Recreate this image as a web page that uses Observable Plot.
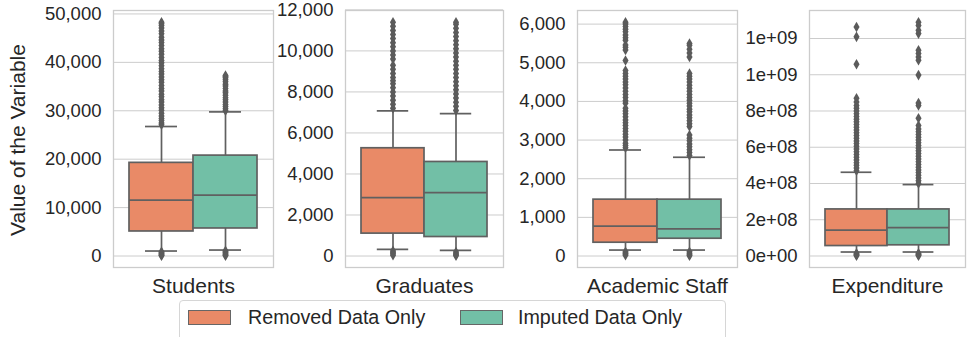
<!DOCTYPE html>
<html>
<head>
<meta charset="utf-8">
<script src="https://cdn.jsdelivr.net/npm/d3@7"></script>
<script src="https://cdn.jsdelivr.net/npm/@observablehq/plot@0.6"></script>
<style>
  html, body { margin: 0; padding: 0; background: #fff; }
  body { font-family: "Liberation Sans", Arial, sans-serif; color: #262626; }
  #root { position: relative; width: 967px; height: 337px; overflow: hidden; }
  .panel { position: absolute; top: 0; }
  #ylabel { position: absolute; left: -132px; top: 127px; width: 300px; text-align: center;
            font-size: 21px; line-height: 26px; transform: rotate(-90deg); transform-origin: 150px 13px; }
  #legend { position: absolute; left: 179px; top: 300px; width: 547px; height: 50px;
            border: 1px solid #d6d6d6; border-radius: 4px; box-sizing: border-box; }
  .sw { position: absolute; top: 9px; width: 41px; height: 13px; border: 1px solid #666; box-sizing: content-box; }
  .lt { position: absolute; top: 4px; font-size: 19.7px; line-height: 24px; white-space: nowrap; }
</style>
</head>
<body>
<div id="root">
  <div id="ylabel">Value of the Variable</div>
  <div id="legend"></div>
</div>
<script>
// ---------- data ----------
const variables = ["Students", "Graduates", "Academic Staff", "Expenditure"];
const groups = ["Removed Data Only", "Imputed Data Only"];
const palette = ["#e98a67", "#72bfa6"];

// box statistics per variable (Removed / Imputed)
const removedLow    = [1030, 327, 154, 2.2e7];
const removedQ1     = [5070, 1093, 344, 5.5e7];
const removedMedian = [11560, 2849, 771, 1.43e8];
const removedQ3     = [19240, 5254, 1458, 2.57e8];
const removedHigh   = [26750, 7073, 2743, 4.62e8];

const imputedLow    = [1233, 278, 154, 2.2e7];
const imputedQ1     = [5690, 927, 447, 5.9e7];
const imputedMedian = [12590, 3093, 704, 1.56e8];
const imputedQ3     = [20740, 4585, 1458, 2.57e8];
const imputedHigh   = [29770, 6946, 2555, 3.94e8];

// outliers
const studentsRemovedOut = [27100, 27500, 28000, 28400, 28900, 29500, 30100, 30600, 31200, 31800, 32300, 32900, 33400, 34100, 34600, 35200, 35900, 36400, 37000, 37600, 38100, 38700, 39300, 39900, 40400, 41000, 41700, 42300, 42800, 43500, 44100, 44600, 45200, 45900, 46500, 47100, 47600, 48000, 48300, 900, 700, 520, 340, 180, 40];
const studentsImputedOut = [30000, 30400, 30900, 31300, 31800, 32300, 32700, 33200, 33700, 34100, 34600, 35100, 35500, 36000, 36400, 36800, 37100, 37300, 1100, 880, 650, 430, 220, 60];
const graduatesRemovedOut = [7200, 7400, 7600, 7800, 8000, 8200, 8400, 8550, 8700, 8900, 9100, 9300, 9600, 9800, 10000, 10200, 10400, 10600, 10800, 11000, 11200, 11400, 250, 180, 110, 40];
const graduatesImputedOut = [7100, 7300, 7500, 7700, 7900, 8100, 8300, 8500, 8700, 8900, 9100, 9300, 9500, 9700, 9900, 10100, 10300, 10500, 10700, 10900, 11100, 11300, 11400, 200, 130, 60, 10];
const academicRemovedOut = [2800, 2860, 2920, 3000, 3080, 3150, 3230, 3300, 3380, 3450, 3520, 3600, 3680, 3750, 3820, 3950, 4020, 4100, 4180, 4260, 4350, 4430, 4500, 4580, 4650, 4720, 4800, 5060, 5330, 5400, 5460, 5580, 5650, 5720, 5800, 5870, 5940, 6000, 6050, 110, 80, 50, 20];
const academicImputedOut = [2600, 2680, 2750, 2830, 2900, 2980, 3050, 3130, 3350, 3420, 3500, 3580, 3650, 3730, 3800, 3880, 3950, 4030, 4100, 4180, 4260, 4340, 4420, 4500, 4580, 4650, 4720, 5150, 5250, 5350, 5450, 5500, 110, 70, 30, 5];
const expenditureRemovedOut = [4.7e8, 4.85e8, 5.0e8, 5.15e8, 5.3e8, 5.45e8, 5.6e8, 5.75e8, 5.9e8, 6.05e8, 6.2e8, 6.35e8, 6.5e8, 6.65e8, 6.8e8, 6.95e8, 7.1e8, 7.25e8, 7.4e8, 7.55e8, 7.7e8, 7.85e8, 8.0e8, 8.15e8, 8.3e8, 8.5e8, 8.7e8, 1.058e9, 1.209e9, 1.263e9, 1.5e7, 1.0e7, 5e6, 1e6];
const expenditureImputedOut = [4.0e8, 4.15e8, 4.3e8, 4.45e8, 4.6e8, 4.75e8, 4.9e8, 5.05e8, 5.2e8, 5.35e8, 5.5e8, 5.65e8, 5.8e8, 5.95e8, 6.1e8, 6.25e8, 6.4e8, 6.55e8, 6.7e8, 6.85e8, 7.0e8, 7.2e8, 7.6e8, 8.3e8, 8.44e8, 0.998e9, 1.08e9, 1.098e9, 1.117e9, 1.135e9, 1.227e9, 1.245e9, 1.272e9, 1.29e9, 1.5e7, 1.0e7, 5e6, 1e6];

// tick values and labels
const studentsTicks = [0, 10000, 20000, 30000, 40000, 50000];
const graduatesTicks = [0, 2000, 4000, 6000, 8000, 10000, 12000];
const academicTicks = [0, 1000, 2000, 3000, 4000, 5000, 6000];
const expenditureTicks = [0, 2e8, 4e8, 6e8, 8e8, 1e9, 1.2e9];
const expenditureTickLabels = ["0e+00", "2e+08", "4e+08", "6e+08", "8e+08", "1e+09", "1e+09"];

// ---------- build ----------
const comma = d3.format(",");
const outliers = [
  [studentsRemovedOut, studentsImputedOut],
  [graduatesRemovedOut, graduatesImputedOut],
  [academicRemovedOut, academicImputedOut],
  [expenditureRemovedOut, expenditureImputedOut]
];
const ticks = [studentsTicks, graduatesTicks, academicTicks, expenditureTicks];
const formats = [comma, comma, comma, (d, i) => expenditureTickLabels[i]];

// layout (pixels)
const panelLeft = [48, 280, 512, 744];
const frameWidth = [160, 158, 160, 156];
const mLeft = 65;

const root = document.getElementById("root");
const edge = "#606060";
const lw = 1.7;

variables.forEach((v, k) => {
  const stats = [
    {group: groups[0], lo: removedLow[k], q1: removedQ1[k], med: removedMedian[k], q3: removedQ3[k], hi: removedHigh[k]},
    {group: groups[1], lo: imputedLow[k], q1: imputedQ1[k], med: imputedMedian[k], q3: imputedQ3[k], hi: imputedHigh[k]}
  ];
  const pts = [];
  outliers[k].forEach((arr, g) => arr.forEach(value => pts.push({group: groups[g], value})));
  const all = pts.map(d => d.value).concat(stats.flatMap(d => [d.lo, d.hi]));
  const mn = d3.min(all), mx = d3.max(all), pad = (mx - mn) * 0.05;
  const bw = frameWidth[k] * 0.4;

  const chart = Plot.plot({
    width: mLeft + frameWidth[k] + 2,
    height: 300,
    marginTop: 10,
    marginBottom: 33,
    marginLeft: mLeft,
    marginRight: 2,
    x: {domain: groups, paddingInner: 0, paddingOuter: 0.25, axis: null},
    y: {domain: [mn - pad, mx + pad], axis: null},
    color: {domain: groups, range: palette},
    style: {fontFamily: '"Liberation Sans", Arial, sans-serif', fontSize: "18.5px", color: "#262626", background: "transparent", overflow: "visible"},
    marks: [
      Plot.gridY(ticks[k], {stroke: "#cccccc", strokeOpacity: 1, strokeWidth: 1}),
      Plot.frame({stroke: "#cccccc", strokeWidth: 1.3}),
      Plot.axisY(ticks[k], {tickSize: 0, tickPadding: 12, tickFormat: formats[k], fontSize: 18.5, label: null}),
      Plot.ruleX(stats, {x: "group", y1: "q3", y2: "hi", stroke: edge, strokeWidth: lw}),
      Plot.ruleX(stats, {x: "group", y1: "lo", y2: "q1", stroke: edge, strokeWidth: lw}),
      Plot.tickY(stats, {x: "group", y: "hi", insetLeft: bw / 4, insetRight: bw / 4, stroke: edge, strokeWidth: lw}),
      Plot.tickY(stats, {x: "group", y: "lo", insetLeft: bw / 4, insetRight: bw / 4, stroke: edge, strokeWidth: lw}),
      Plot.dot(pts, {x: "group", y: "value", symbol: "diamond", r: 3.2, fill: "#5b5b5b", stroke: null}),
      Plot.barY(stats, {x: "group", y1: "q1", y2: "q3", fill: "group", stroke: edge, strokeWidth: lw}),
      Plot.tickY(stats, {x: "group", y: "med", stroke: edge, strokeWidth: lw}),
      Plot.text([v], {text: d => d, frameAnchor: "bottom", lineAnchor: "top", dy: 11, fontSize: 21, fill: "#262626"})
    ]
  });
  const div = document.createElement("div");
  div.className = "panel";
  div.style.left = panelLeft[k] + "px";
  div.appendChild(chart);
  root.appendChild(div);
});

// legend
const legend = document.getElementById("legend");
const swLeft = [8, 280];
const txLeft = [68, 338];
groups.forEach((g, i) => {
  const sw = document.createElement("div");
  sw.className = "sw";
  sw.style.left = swLeft[i] + "px";
  sw.style.background = palette[i];
  legend.appendChild(sw);
  const t = document.createElement("div");
  t.className = "lt";
  t.style.left = txLeft[i] + "px";
  t.textContent = g;
  legend.appendChild(t);
});
</script>
</body>
</html>
